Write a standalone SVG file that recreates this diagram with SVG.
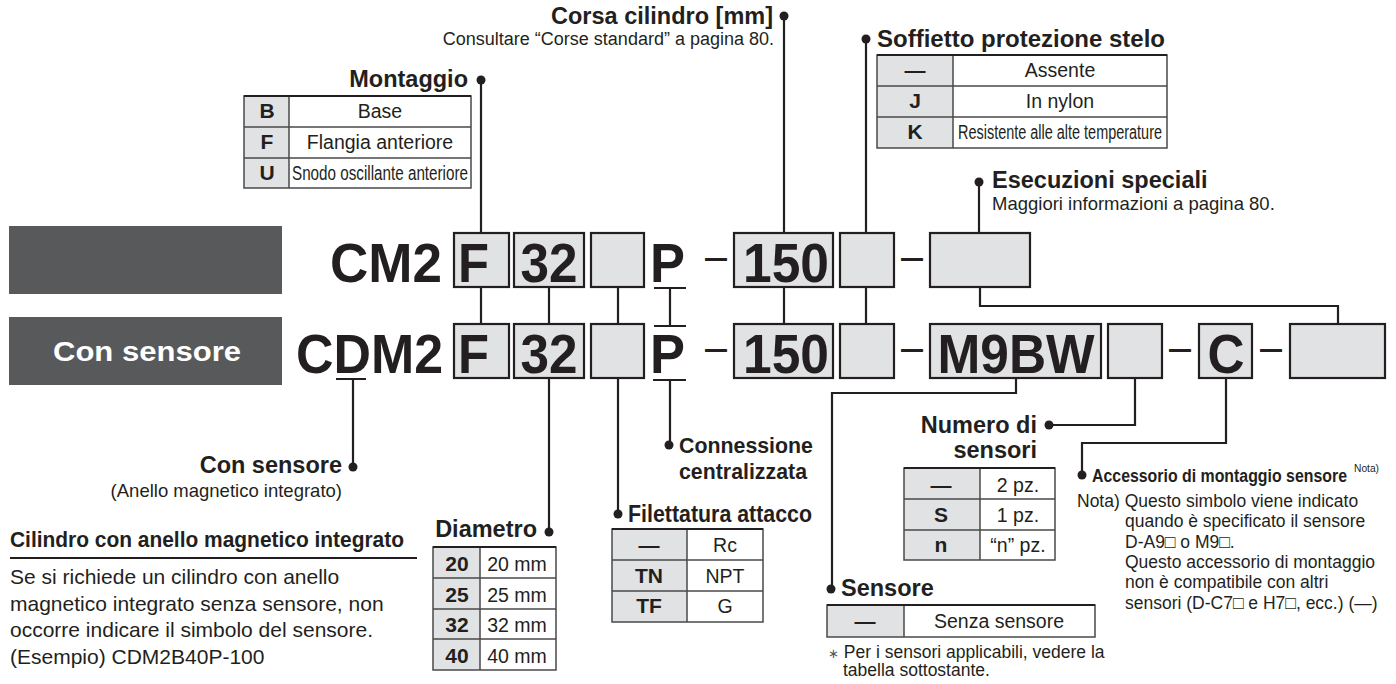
<svg xmlns="http://www.w3.org/2000/svg" width="1396" height="684" viewBox="0 0 1396 684">
<style>
text{font-family:"Liberation Sans",Arial,Helvetica,sans-serif;fill:#231f20}
.lbl{font-weight:bold;font-size:23.5px}
.sub{font-size:18.5px}
.code{font-weight:bold;font-size:56px}
.dash{font-size:44px}
.cell{font-size:19.5px}
.cellb{font-weight:bold;font-size:21px}
.note{font-size:17.5px}
.para{font-size:21px}
.box{fill:#e1e2e4;stroke:#231f20;stroke-width:2.2}
.tl{fill:#e1e2e3}
.tr{fill:#fff}
.grid{stroke:#4a4a4a;stroke-width:1.5;fill:none}
.gtop{stroke:#231f20;stroke-width:2.2}
.conn path{stroke:#231f20;stroke-width:2.2;fill:none}
.dot{fill:#231f20}
.band{fill:#58595b}
</style>

<!-- gray bands -->
<g id="band-top"><rect class="band" x="9" y="226" width="273" height="68"/></g>
<g id="band-bottom"><rect class="band" x="9" y="317" width="273" height="68"/>
<text x="147" y="361" text-anchor="middle" style="fill:#fff;font-weight:bold;font-size:28px" textLength="188" lengthAdjust="spacingAndGlyphs">Con sensore</text></g>

<!-- connectors -->
<g class="conn">
<path d="M481,80V233"/>
<path d="M784,16V233"/>
<path d="M866,39V233"/>
<path d="M979,182V233"/>
<path d="M481,287V324M549,287V324M618,287V324M784,287V324M866,287V324"/>
<path d="M980,287V306H1338V324"/>
<path d="M654,288H686M670,288V326M654,326H686"/>
<path d="M336,379H366M353,379V467"/>
<path d="M549,378V532"/>
<path d="M618,378V514"/>
<path d="M653,380H686M670,380V445"/>
<path d="M1016,378V393H832V589"/>
<path d="M1135,378V425H1049"/>
<path d="M1226,378V443H1082V475"/>
</g>
<g id="dots">
<circle class="dot" cx="481" cy="80" r="4.5"/>
<circle class="dot" cx="784" cy="16" r="4.5"/>
<circle class="dot" cx="866" cy="39" r="4.5"/>
<circle class="dot" cx="979" cy="182" r="4.5"/>
<circle class="dot" cx="353" cy="467" r="4.5"/>
<circle class="dot" cx="549" cy="532" r="4.5"/>
<circle class="dot" cx="618" cy="514" r="4.5"/>
<circle class="dot" cx="669" cy="445" r="4.5"/>
<circle class="dot" cx="831" cy="589" r="4.5"/>
<circle class="dot" cx="1049" cy="425" r="4.5"/>
<circle class="dot" cx="1082" cy="475" r="4.5"/>
</g>

<!-- top code row -->
<g id="row-top">
<text class="code" x="330" y="282" textLength="112" lengthAdjust="spacingAndGlyphs">CM2</text>
<rect class="box" x="454" y="233" width="55" height="54"/>
<text class="code" x="458" y="282" textLength="31" lengthAdjust="spacingAndGlyphs">F</text>
<rect class="box" x="514" y="233" width="70" height="54"/>
<text class="code" x="549" y="282" text-anchor="middle" textLength="57" lengthAdjust="spacingAndGlyphs">32</text>
<rect class="box" x="591" y="233" width="53" height="54"/>
<text class="code" x="650" y="282" textLength="35" lengthAdjust="spacingAndGlyphs">P</text>
<text class="dash" x="705" y="271" textLength="22" lengthAdjust="spacingAndGlyphs">–</text>
<rect class="box" x="734" y="233" width="99" height="54"/>
<text class="code" x="786" y="282" text-anchor="middle" textLength="86" lengthAdjust="spacingAndGlyphs">150</text>
<rect class="box" x="840" y="233" width="54" height="54"/>
<text class="dash" x="901" y="271" textLength="22" lengthAdjust="spacingAndGlyphs">–</text>
<rect class="box" x="930" y="233" width="100" height="54"/>
</g>

<!-- bottom code row -->
<g id="row-bottom">
<text class="code" x="296" y="373" textLength="147" lengthAdjust="spacingAndGlyphs">CDM2</text>
<rect class="box" x="454" y="324" width="55" height="54"/>
<text class="code" x="458" y="373" textLength="31" lengthAdjust="spacingAndGlyphs">F</text>
<rect class="box" x="514" y="324" width="70" height="54"/>
<text class="code" x="549" y="373" text-anchor="middle" textLength="57" lengthAdjust="spacingAndGlyphs">32</text>
<rect class="box" x="591" y="324" width="53" height="54"/>
<text class="code" x="650" y="373" textLength="35" lengthAdjust="spacingAndGlyphs">P</text>
<text class="dash" x="705" y="362" textLength="22" lengthAdjust="spacingAndGlyphs">–</text>
<rect class="box" x="734" y="324" width="99" height="54"/>
<text class="code" x="786" y="373" text-anchor="middle" textLength="86" lengthAdjust="spacingAndGlyphs">150</text>
<rect class="box" x="840" y="324" width="54" height="54"/>
<text class="dash" x="901" y="362" textLength="22" lengthAdjust="spacingAndGlyphs">–</text>
<rect class="box" x="930" y="324" width="171" height="54"/>
<text class="code" x="1016" y="373" text-anchor="middle" textLength="157" lengthAdjust="spacingAndGlyphs">M9BW</text>
<rect class="box" x="1108" y="324" width="54" height="54"/>
<text class="dash" x="1169" y="362" textLength="22" lengthAdjust="spacingAndGlyphs">–</text>
<rect class="box" x="1199" y="324" width="53" height="54"/>
<text class="code" x="1226" y="373" text-anchor="middle" textLength="37" lengthAdjust="spacingAndGlyphs">C</text>
<text class="dash" x="1260" y="362" textLength="22" lengthAdjust="spacingAndGlyphs">–</text>
<rect class="box" x="1290" y="324" width="95" height="54"/>
</g>

<!-- Corsa -->
<g id="corsa">
<text class="lbl" x="773" y="24" text-anchor="end">Corsa cilindro [mm]</text>
<text class="sub" x="774" y="45" text-anchor="end" style="font-size:18px">Consultare “Corse standard” a pagina 80.</text>
</g>

<!-- Montaggio -->
<g id="montaggio">
<text class="lbl" x="468" y="87" text-anchor="end">Montaggio</text>
<rect class="tl" x="244" y="96" width="45" height="92"/>
<rect class="tr" x="289" y="96" width="182" height="92"/>
<path class="grid" d="M244,96H471V188H244ZM289,96V188M244,127H471M244,158H471"/>
<path class="gtop" d="M244,96H471"/>
<text class="cellb" x="267" y="118" text-anchor="middle">B</text>
<text class="cell" x="380" y="118" text-anchor="middle">Base</text>
<text class="cellb" x="267" y="149" text-anchor="middle">F</text>
<text class="cell" x="380" y="149" text-anchor="middle">Flangia anteriore</text>
<text class="cellb" x="267" y="180" text-anchor="middle">U</text>
<text class="cell" x="380" y="180" text-anchor="middle" textLength="176" lengthAdjust="spacingAndGlyphs">Snodo oscillante anteriore</text>
</g>

<!-- Soffietto -->
<g id="soffietto">
<text class="lbl" x="877" y="47" textLength="288" lengthAdjust="spacingAndGlyphs">Soffietto protezione stelo</text>
<rect class="tl" x="877" y="55" width="76" height="93"/>
<rect class="tr" x="953" y="55" width="214" height="93"/>
<path class="grid" d="M877,55H1167V148H877ZM953,55V148M877,86H1167M877,117H1167"/>
<path class="gtop" d="M877,55H1167"/>
<text class="cellb" x="915" y="77" text-anchor="middle">—</text>
<text class="cell" x="1060" y="77" text-anchor="middle">Assente</text>
<text class="cellb" x="915" y="108" text-anchor="middle">J</text>
<text class="cell" x="1060" y="108" text-anchor="middle">In nylon</text>
<text class="cellb" x="915" y="139" text-anchor="middle">K</text>
<text class="cell" x="1060" y="139" text-anchor="middle" textLength="204" lengthAdjust="spacingAndGlyphs">Resistente alle alte temperature</text>
</g>

<!-- Esecuzioni -->
<g id="esecuzioni">
<text class="lbl" x="992" y="188">Esecuzioni speciali</text>
<text class="sub" x="992" y="210">Maggiori informazioni a pagina 80.</text>
</g>

<!-- Con sensore -->
<g id="con-sensore">
<text class="lbl" x="342" y="473" text-anchor="end">Con sensore</text>
<text class="sub" x="342" y="497" text-anchor="end">(Anello magnetico integrato)</text>
</g>

<!-- Cilindro note -->
<g id="cilindro-note">
<text x="10" y="547" style="font-weight:bold;font-size:22px" textLength="394" lengthAdjust="spacingAndGlyphs">Cilindro con anello magnetico integrato</text>
<path d="M10,558H417" stroke="#231f20" stroke-width="2"/>
<text class="para" x="10" y="584">Se si richiede un cilindro con anello</text>
<text class="para" x="10" y="611">magnetico integrato senza sensore, non</text>
<text class="para" x="10" y="637">occorre indicare il simbolo del sensore.</text>
<text class="para" x="10" y="664">(Esempio) CDM2B40P-100</text>
</g>

<!-- Diametro -->
<g id="diametro">
<text class="lbl" x="537" y="537" text-anchor="end">Diametro</text>
<rect class="tl" x="433" y="547" width="47" height="123"/>
<rect class="tr" x="480" y="547" width="76" height="123"/>
<path class="grid" d="M433,547H556V670H433ZM480,547V670M433,578H556M433,609H556M433,639H556"/>
<path class="gtop" d="M433,547H556"/>
<text class="cellb" x="457" y="571" text-anchor="middle">20</text>
<text class="cell" x="517" y="571" text-anchor="middle">20 mm</text>
<text class="cellb" x="457" y="602" text-anchor="middle">25</text>
<text class="cell" x="517" y="602" text-anchor="middle">25 mm</text>
<text class="cellb" x="457" y="632" text-anchor="middle">32</text>
<text class="cell" x="517" y="632" text-anchor="middle">32 mm</text>
<text class="cellb" x="457" y="663" text-anchor="middle">40</text>
<text class="cell" x="517" y="663" text-anchor="middle">40 mm</text>
</g>

<!-- Filettatura -->
<g id="filettatura">
<text class="lbl" x="628" y="522" style="font-size:23px" textLength="184" lengthAdjust="spacingAndGlyphs">Filettatura attacco</text>
<rect class="tl" x="612" y="529" width="75" height="93"/>
<rect class="tr" x="687" y="529" width="76" height="93"/>
<path class="grid" d="M612,529H763V622H612ZM687,529V622M612,560H763M612,591H763"/>
<path class="gtop" d="M612,529H763"/>
<text class="cellb" x="649" y="552" text-anchor="middle">—</text>
<text class="cell" x="725" y="552" text-anchor="middle">Rc</text>
<text class="cellb" x="649" y="583" text-anchor="middle">TN</text>
<text class="cell" x="725" y="583" text-anchor="middle">NPT</text>
<text class="cellb" x="649" y="613" text-anchor="middle">TF</text>
<text class="cell" x="725" y="613" text-anchor="middle">G</text>
</g>

<!-- Connessione -->
<g id="connessione">
<text class="lbl" x="679" y="453" style="font-size:22.5px" textLength="134" lengthAdjust="spacingAndGlyphs">Connessione</text>
<text class="lbl" x="679" y="479" style="font-size:22.5px" textLength="128" lengthAdjust="spacingAndGlyphs">centralizzata</text>
</g>

<!-- Numero di sensori -->
<g id="numero">
<text class="lbl" x="1037" y="433" text-anchor="end">Numero di</text>
<text class="lbl" x="1037" y="458" text-anchor="end">sensori</text>
<rect class="tl" x="904" y="468" width="76" height="92"/>
<rect class="tr" x="980" y="468" width="75" height="92"/>
<path class="grid" d="M904,468H1055V560H904ZM980,468V560M904,499H1055M904,530H1055"/>
<path class="gtop" d="M904,468H1055"/>
<text class="cellb" x="941" y="492" text-anchor="middle">—</text>
<text class="cell" x="1018" y="492" text-anchor="middle">2 pz.</text>
<text class="cellb" x="941" y="522" text-anchor="middle">S</text>
<text class="cell" x="1018" y="522" text-anchor="middle">1 pz.</text>
<text class="cellb" x="941" y="552" text-anchor="middle">n</text>
<text class="cell" x="1018" y="552" text-anchor="middle">“n” pz.</text>
</g>

<!-- Sensore -->
<g id="sensore">
<text class="lbl" x="841" y="596">Sensore</text>
<rect class="tl" x="827" y="605" width="77" height="32"/>
<rect class="tr" x="904" y="605" width="191" height="32"/>
<path class="grid" d="M827,605H1095V637H827ZM904,605V637"/>
<path class="gtop" d="M827,605H1095"/>
<text class="cellb" x="865" y="628" text-anchor="middle">—</text>
<text class="cell" x="999" y="628" text-anchor="middle">Senza sensore</text>
<text class="note" x="828" y="658"><tspan style="font-size:13px;fill:#555">∗</tspan> Per i sensori applicabili, vedere la</text>
<text class="note" x="843" y="676">tabella sottostante.</text>
</g>

<!-- Accessorio -->
<g id="accessorio">
<text transform="translate(1092,482) scale(1,1.16)" x="0" y="0" style="font-weight:bold;font-size:16px" textLength="255" lengthAdjust="spacingAndGlyphs">Accessorio di montaggio sensore</text>
<text x="1354" y="472" style="font-size:10.5px" textLength="25" lengthAdjust="spacingAndGlyphs">Nota)</text>
<text class="note" x="1077" y="507">Nota) Questo simbolo viene indicato</text>
<text class="note" x="1125" y="527">quando è specificato il sensore</text>
<text class="note" x="1125" y="548">D-A9□ o M9□.</text>
<text class="note" x="1125" y="568">Questo accessorio di montaggio</text>
<text class="note" x="1125" y="588">non è compatibile con altri</text>
<text class="note" x="1125" y="609">sensori (D-C7□ e H7□, ecc.) (—)</text>
</g>
</svg>
